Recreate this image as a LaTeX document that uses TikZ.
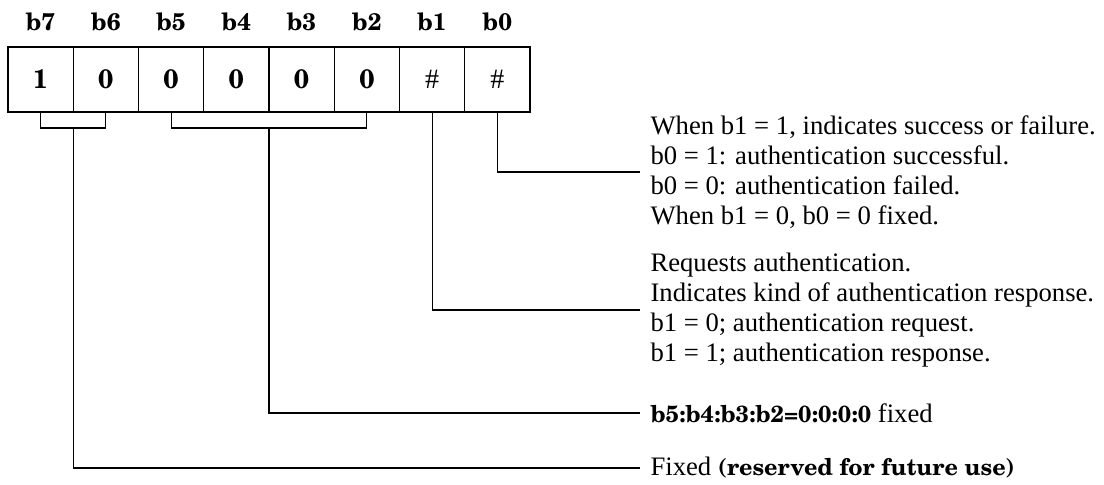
\documentclass[tikz,border=0pt]{standalone}
\usepackage{fontspec}
\newfontfamily\tnr{Liberation Serif}
\newfontfamily\schb{texgyreschola-bold.otf}
\newcommand{\bsz}{\fontsize{17.5}{21}\selectfont}
\begin{document}
\begin{tikzpicture}[x=0.75pt,y=-0.75pt,line width=0.8pt,
  cell/.style={draw,line width=0.8pt,minimum width=48.94pt,minimum height=48.75pt,inner sep=0pt,
    font=\schb\fontsize{20}{24}\selectfont},
  bitlab/.style={inner sep=0pt,font=\schb\fontsize{18}{22}\selectfont},
  txt/.style={anchor=west,inner xsep=7.5pt,inner ysep=0pt,align=left,
    font=\tnr\fontsize{20}{22.5}\selectfont},
  conn/.style={line width=0.8pt}]
\useasboundingbox (0,0) rectangle (1104,485);
% bit labels
\node[bitlab] (l7) at (40.6,21.5) {b7};
\node[bitlab] (l6) at (105.9,21.5) {b6};
\node[bitlab] (l5) at (171.1,21.5) {b5};
\node[bitlab] (l4) at (236.4,21.5) {b4};
\node[bitlab] (l3) at (301.6,21.5) {b3};
\node[bitlab] (l2) at (366.9,21.5) {b2};
\node[bitlab] (l1) at (432.1,21.5) {b1};
\node[bitlab] (l0) at (497.4,21.5) {b0};
% cells
\node[cell] (c7) at (40.6,79.5) {1};
\node[cell] (c6) at (105.9,79.5) {0};
\node[cell] (c5) at (171.1,79.5) {0};
\node[cell] (c4) at (236.4,79.5) {0};
\node[cell] (c3) at (301.6,79.5) {0};
\node[cell] (c2) at (366.9,79.5) {0};
\node[cell] (c1) at (432.1,79.5) {{\tnr\fontsize{21}{24}\selectfont\#}};
\node[cell] (c0) at (497.4,79.5) {{\tnr\fontsize{21}{24}\selectfont\#}};
% texts
\node[txt] (blk1) at (640,172) {When b1 = 1, indicates success or failure.\\
b0 = 1: authentication successful.\\
b0 = 0: authentication failed.\\
When b1 = 0, b0 = 0 fixed.};
\node[txt] (blk2) at (640,310) {Requests authentication.\\
Indicates kind of authentication response.\\
b1 = 0; authentication request.\\
b1 = 1; authentication response.};
\node[txt] (b5t) at (640,413) {{\schb\bsz b5:b4:b3:b2=0:0:0:0} fixed};
\node[txt] (fxt) at (640,468) {Fixed {\schb\bsz (reserved for future use)}};
% connectors
\coordinate (br1) at (73.25,128);
\coordinate (br2) at (269,128);
\draw[conn] (c7.south) |- (br1) -| (c6.south);
\draw[conn] (br1) |- (fxt.west);
\draw[conn] (c5.south) |- (br2) -| (c2.south);
\draw[conn] (br2) |- (b5t.west);
\draw[conn] (c1.south) |- (blk2.west);
\draw[conn] (c0.south) |- (blk1.west);
\end{tikzpicture}
\end{document}
